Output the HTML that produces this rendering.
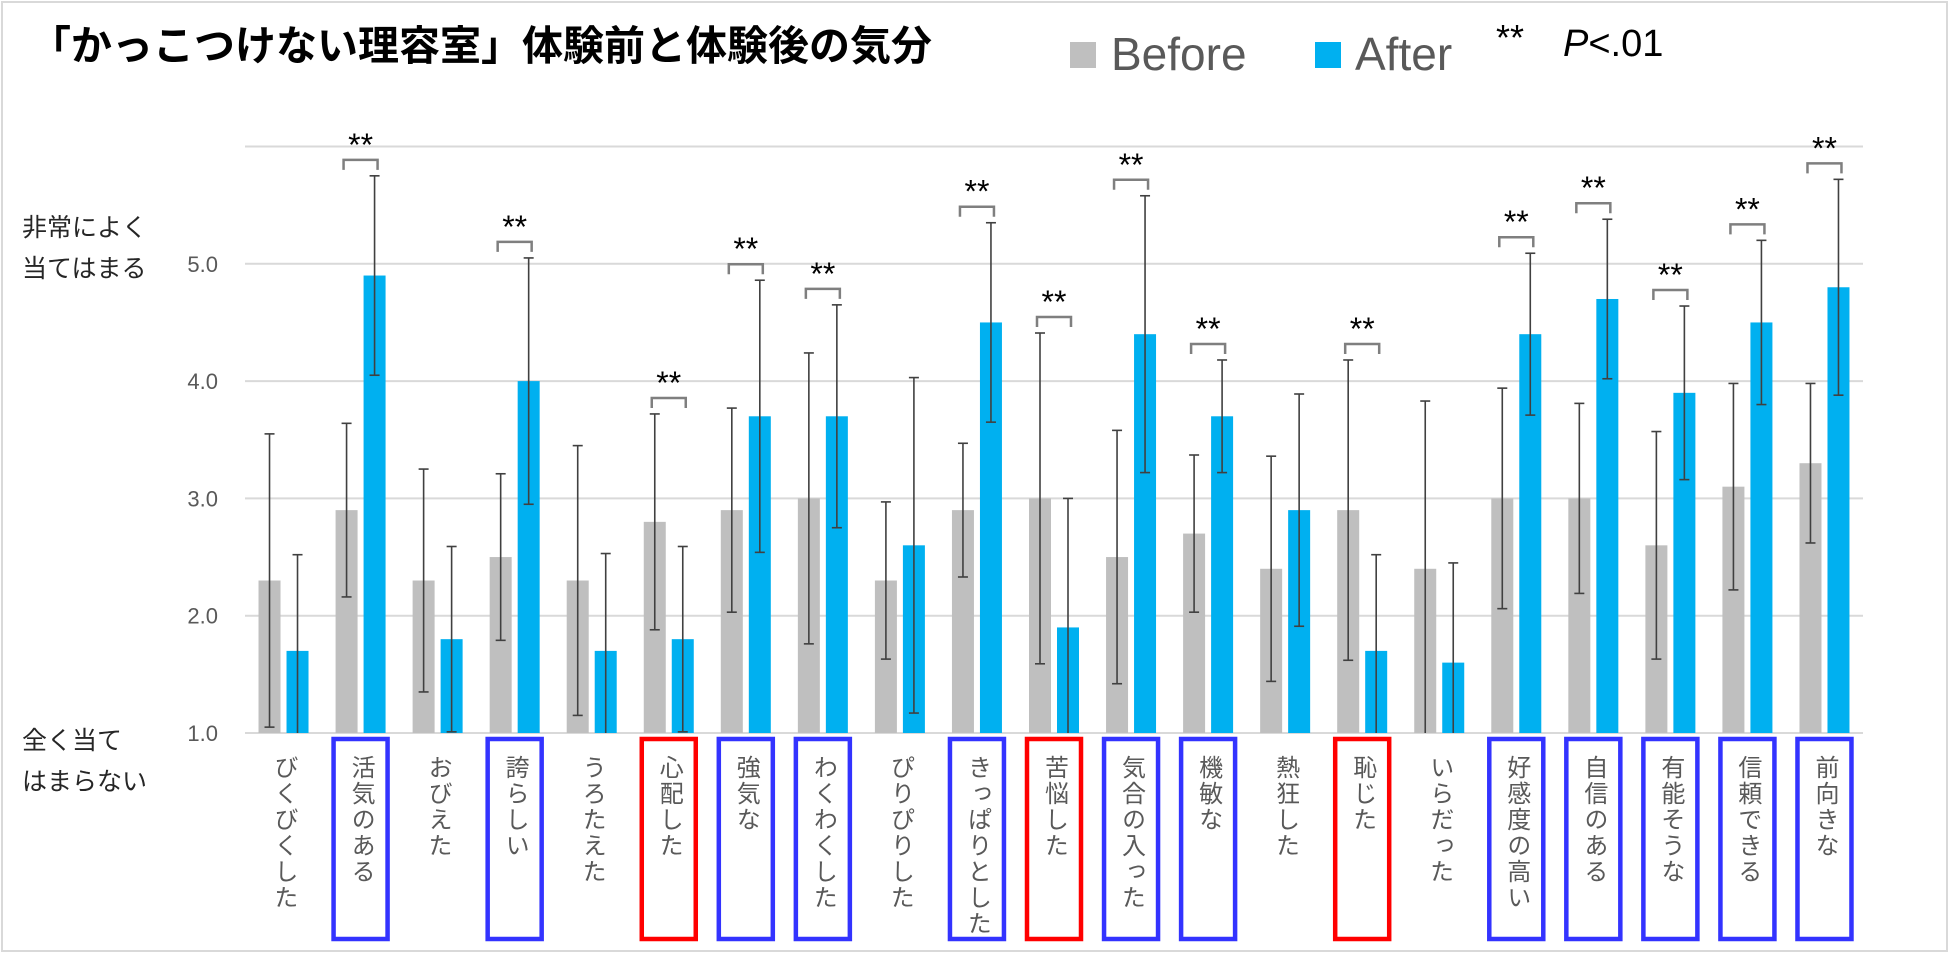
<!DOCTYPE html>
<html><head><meta charset="utf-8">
<style>
html,body{margin:0;padding:0;background:#fff;}
svg{display:block;font-family:"Liberation Sans","Noto Sans CJK JP",sans-serif;}
</style></head>
<body>
<svg id="chart" width="1950" height="953" viewBox="0 0 1950 953">
<rect x="2" y="2" width="1945" height="949" fill="#fff" stroke="#d9d9d9" stroke-width="2"/>
<text x="30" y="60" font-size="41" font-weight="bold" fill="#000">「かっこつけない理容室」体験前と体験後の気分</text>
<rect x="1070" y="42" width="26" height="26" fill="#bfbfbf"/>
<text x="1111" y="70" font-size="46" fill="#595959">Before</text>
<rect x="1315" y="42" width="26" height="26" fill="#00b0f0"/>
<text x="1355" y="70" font-size="46" fill="#595959">After</text>
<text x="1496" y="50" font-size="36" fill="#000">**</text>
<text x="1563" y="56" font-size="38" fill="#000"><tspan font-style="italic">P</tspan>&lt;.01</text>
<text x="22" y="236" font-size="25" fill="#262626">非常によく</text>
<text x="22" y="277" font-size="25" fill="#262626">当てはまる</text>
<text x="22" y="749" font-size="25" fill="#262626">全く当て</text>
<text x="22" y="790" font-size="25" fill="#262626">はまらない</text>
<g id="plot"></g>
</svg>
<script>
const categories=["びくびくした","活気のある","おびえた","誇らしい","うろたえた","心配した","強気な","わくわくした","ぴりぴりした","きっぱりとした","苦悩した","気合の入った","機敏な","熱狂した","恥じた","いらだった","好感度の高い","自信のある","有能そうな","信頼できる","前向きな"];
const beforeVals=[2.3,2.9,2.3,2.5,2.3,2.8,2.9,3.0,2.3,2.9,3.0,2.5,2.7,2.4,2.9,2.4,3.0,3.0,2.6,3.1,3.3];
const afterVals=[1.7,4.9,1.8,4.0,1.7,1.8,3.7,3.7,2.6,4.5,1.9,4.4,3.7,2.9,1.7,1.6,4.4,4.7,3.9,4.5,4.8];
const beforeErr=[1.25,0.74,0.95,0.71,1.15,0.92,0.87,1.24,0.67,0.57,1.41,1.08,0.67,0.96,1.28,1.43,0.94,0.81,0.97,0.88,0.68];
const afterErr=[0.82,0.85,0.79,1.05,0.83,0.79,1.16,0.95,1.43,0.85,1.1,1.18,0.48,0.99,0.82,0.85,0.69,0.68,0.74,0.7,0.92];
const significant=[0,1,0,1,0,1,1,1,0,1,1,1,1,0,1,0,1,1,1,1,1];
const boxType=["","pos","","pos","","neg","pos","pos","","pos","neg","pos","pos","","neg","","pos","pos","pos","pos","pos"];
const yTicks=[1.0,2.0,3.0,4.0,5.0];
const yGrid=[1,2,3,4,5,6];

const NS="http://www.w3.org/2000/svg";
const g=document.getElementById('plot');
const X0=245,X1=1863,CW=(X1-X0)/categories.length;
const Y1=733,YU=117.3;
const yOf=v=>Y1-(v-1)*YU;
const xCenter=i=>X0+CW*(i+0.5);
function mk(tag,attrs,parent){const e=document.createElementNS(NS,tag);for(const k in attrs)e.setAttribute(k,attrs[k]);(parent||g).appendChild(e);return e;}

yGrid.forEach(v=>{
  const l=mk('line',{x1:X0,x2:X1,y1:yOf(v),y2:yOf(v),stroke:'#d9d9d9','stroke-width':2});
  
  
});
yTicks.forEach(v=>{
  const t=mk('text',{x:218,y:yOf(v)+8,'font-size':22,fill:'#595959','text-anchor':'end'});
  t.textContent=v.toFixed(1);
  
  
});
const BW=22,OFF=14;
function errBar(x,v,e,name){
  const top=yOf(v+e),bot=Math.min(yOf(Math.max(v-e,1)),Y1);
  const gg=mk('g',{stroke:'#404040','stroke-width':1.6});
  
  
  mk('line',{x1:x,x2:x,y1:top,y2:bot},gg);
  mk('line',{x1:x-5,x2:x+5,y1:top,y2:top},gg);
  if(v-e>1) mk('line',{x1:x-5,x2:x+5,y1:bot,y2:bot},gg);
}
categories.forEach((c,i)=>{
  const cx=xCenter(i);
  const bx=cx-OFF,ax=cx+OFF;
  const b=mk('rect',{x:bx-BW/2,y:yOf(beforeVals[i]),width:BW,height:Y1-yOf(beforeVals[i]),fill:'#bfbfbf'});
  
  
  const a=mk('rect',{x:ax-BW/2,y:yOf(afterVals[i]),width:BW,height:Y1-yOf(afterVals[i]),fill:'#00b0f0'});
  
  
  errBar(bx,beforeVals[i],beforeErr[i],'error-bar-before');
  errBar(ax,afterVals[i],afterErr[i],'error-bar-after');
  if(significant[i]){
    const top=Math.min(yOf(beforeVals[i]+beforeErr[i]),yOf(afterVals[i]+afterErr[i]));
    const by=top-16;
    const br=mk('path',{d:`M${bx-3} ${by+10} V${by} H${ax+3} V${by+10}`,fill:'none',stroke:'#7f7f7f','stroke-width':2.5});
    
    
    const s=mk('text',{x:cx,y:by-4,'font-size':32,'text-anchor':'middle',fill:'#000'});
    s.textContent='**';
    
    
  }
  if(boxType[i]){
    const r=mk('rect',{x:cx-27,y:739,width:54,height:200,fill:'none',stroke:boxType[i]==='pos'?'#3333ff':'#ff0000','stroke-width':4.5});
    
    
  }
  const t=mk('text',{x:cx,y:755,'font-size':24,fill:'#595959','style':'writing-mode:vertical-rl;letter-spacing:2px'});
  t.textContent=c;
  
  
});
</script>
</body></html>
